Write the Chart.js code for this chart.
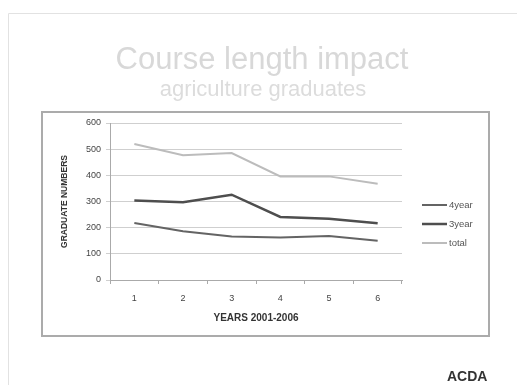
<!DOCTYPE html>
<html>
<head>
<meta charset="utf-8">
<script src="https://cdn.jsdelivr.net/npm/chart.js@4/dist/chart.umd.min.js"></script>
<style>
  html, body { margin: 0; padding: 0; background: #fff; }
  #wrap { width: 517px; height: 385px; }
</style>
</head>
<body>
<div id="wrap"><canvas id="chart" width="517" height="385"></canvas></div>
<script>
const years    = ["1", "2", "3", "4", "5", "6"];
const fourYear = [218, 186, 166, 162, 168, 150];
const threeYr  = [304, 297, 326, 241, 234, 217];
const total    = [520, 477, 485, 396, 396, 368];
const yTicks   = [0, 100, 200, 300, 400, 500, 600];

const FONT = "'Liberation Sans', Arial, sans-serif";

// slide frame, headings, chart box, footer text
const slide = {
  id: "slide",
  beforeDraw(c) {
    const g = c.ctx;
    g.save();
    g.fillStyle = "#fff";
    g.fillRect(0, 0, c.width, c.height);
    g.strokeStyle = "#e2e2e2";
    g.lineWidth = 1;
    g.beginPath();
    g.moveTo(8.5, 385); g.lineTo(8.5, 13.5); g.lineTo(517, 13.5);
    g.stroke();
    g.strokeStyle = "#ababab";
    g.lineWidth = 2;
    g.strokeRect(42, 112, 447, 224);

    g.textAlign = "center";
    g.textBaseline = "middle";
    g.fillStyle = "#d8d8d8";
    g.font = "31px " + FONT;
    g.fillText("Course length impact", 262, 60);
    g.fillStyle = "#dcdcdc";
    g.font = "22px " + FONT;
    g.fillText("agriculture graduates", 263, 90);
    g.restore();
  },
  afterDraw(c) {
    const g = c.ctx;
    g.save();
    g.fillStyle = "#333";
    g.font = "bold 14px " + FONT;
    g.textBaseline = "middle";
    g.textAlign = "left";
    g.fillText("ACDA", 447, 377);
    g.restore();
  }
};

// legend on the right, drawn from the datasets
const sideLegend = {
  id: "sideLegend",
  afterDraw(c) {
    const g = c.ctx;
    g.save();
    g.font = "9.5px " + FONT;
    g.textBaseline = "middle";
    c.data.datasets.forEach((ds, i) => {
      const y = 205 + 19 * i;
      g.strokeStyle = ds.borderColor;
      g.lineWidth = ds.borderWidth;
      g.beginPath();
      g.moveTo(422, y); g.lineTo(447, y);
      g.stroke();
      g.fillStyle = "#555";
      g.fillText(ds.label, 449, y);
    });
    g.restore();
  }
};

new Chart(document.getElementById("chart"), {
  type: "line",
  plugins: [slide, sideLegend],
  data: {
    labels: years,
    datasets: [
      { label: "4year", data: fourYear, borderColor: "#646464", borderWidth: 2, pointRadius: 0 },
      { label: "3year", data: threeYr,  borderColor: "#4e4e4e", borderWidth: 2.5, pointRadius: 0 },
      { label: "total", data: total,    borderColor: "#bcbcbc", borderWidth: 2, pointRadius: 0 }
    ]
  },
  options: {
    responsive: false,
    animation: false,
    layout: { padding: { left: 58, right: 115, top: 123, bottom: 60 } },
    plugins: {
      legend: { display: false },
      tooltip: { enabled: false },
      title: { display: false }
    },
    scales: {
      x: {
        offset: true,
        afterFit: s => { s.height = 45; },
        grid: { display: true, offset: true, drawOnChartArea: false, drawTicks: true, tickLength: 4, color: "#aaa" },
        border: { color: "#aaa" },
        ticks: { color: "#444", padding: 9, font: { family: FONT, size: 9 } },
        title: {
          display: true,
          text: "YEARS 2001-2006",
          color: "#333",
          font: { family: FONT, size: 10, weight: "bold", lineHeight: 1.2 },
          padding: { top: 0, bottom: 1 }
        }
      },
      y: {
        min: 0,
        max: 600,
        afterFit: s => { s.width = 52; },
        afterBuildTicks: s => { s.ticks = yTicks.map(v => ({ value: v })); },
        grid: { color: "#cfcfcf", tickLength: 4, drawTicks: true },
        border: { color: "#aaa" },
        ticks: { color: "#444", padding: 5, font: { family: FONT, size: 9 } },
        title: {
          display: true,
          text: "GRADUATE NUMBERS",
          color: "#333",
          font: { family: FONT, size: 8.5, weight: "bold", lineHeight: 1.2 },
          padding: { top: 2, bottom: 0 }
        }
      }
    }
  }
});
</script>
</body>
</html>
